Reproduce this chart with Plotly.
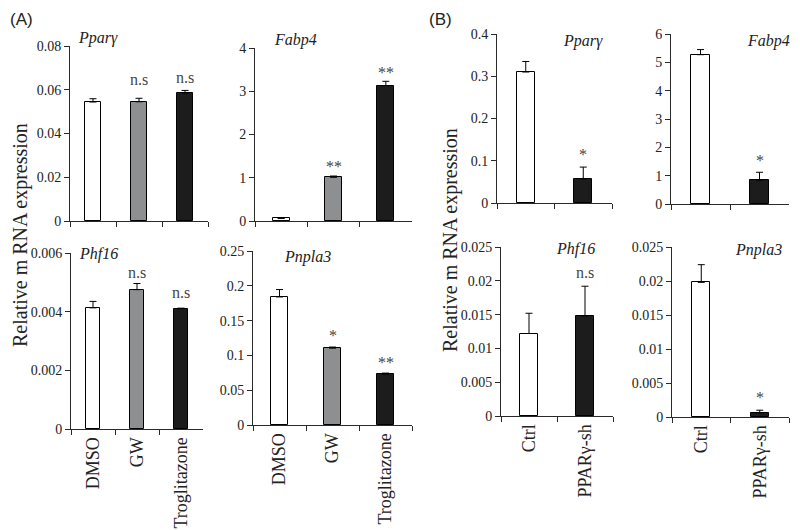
import plotly.graph_objects as go

W, H = 800, 530
OFF = 8  # page body margin offset in the browser; layout positions are compensated

# ---------------- data ----------------
cats_a = ["DMSO", "GW", "Troglitazone"]
cats_b = ["Ctrl", "PPARγ-sh"]

colors_a = ["#ffffff", "#8e8f91", "#1c1c1c"]
colors_b = ["#ffffff", "#1c1c1c"]

# Panel A
a_ppar_vals = [0.0544, 0.0545, 0.0585]
a_ppar_err = [0.0015, 0.0016, 0.0012]
a_fabp4_vals = [0.06, 1.01, 3.13]
a_fabp4_err = [0.01, 0.03, 0.10]
a_phf16_vals = [0.00413, 0.00475, 0.00410]
a_phf16_err = [0.00022, 0.00021, 0.00002]
a_pnpla3_vals = [0.184, 0.1104, 0.0731]
a_pnpla3_err = [0.0106, 0.0016, 0.0015]

# Panel B
b_ppar_vals = [0.31, 0.057]
b_ppar_err = [0.025, 0.028]
b_fabp4_vals = [5.27, 0.84]
b_fabp4_err = [0.18, 0.28]
b_phf16_vals = [0.0122, 0.0148]
b_phf16_err = [0.0030, 0.0044]
b_pnpla3_vals = [0.0198, 0.0006]
b_pnpla3_err = [0.0026, 0.0004]

# tick labels
ticks_a_ppar = [0, 0.02, 0.04, 0.06, 0.08]
ticks_a_fabp4 = [0, 1, 2, 3, 4]
ticks_a_phf16 = [0, 0.002, 0.004, 0.006]
ticks_a_pnpla3 = [0, 0.05, 0.1, 0.15, 0.2, 0.25]
ticks_b_ppar = [0, 0.1, 0.2, 0.3, 0.4]
ticks_b_fabp4 = [0, 1, 2, 3, 4, 5, 6]
ticks_b_small = [0, 0.005, 0.01, 0.015, 0.02, 0.025]

# significance labels: (category, text, y position)
sig_a_ppar = [("GW", "n.s", 0.0645), ("Troglitazone", "n.s", 0.0658)]
sig_a_fabp4 = [("GW", "**", 1.25), ("Troglitazone", "**", 3.44)]
sig_a_phf16 = [("GW", "n.s", 0.00532), ("Troglitazone", "n.s", 0.00467)]
sig_a_pnpla3 = [("GW", "*", 0.128), ("Troglitazone", "**", 0.0905)]
sig_b_ppar = [("PPARγ-sh", "*", 0.114)]
sig_b_fabp4 = [("PPARγ-sh", "*", 1.55)]
sig_b_phf16 = [("PPARγ-sh", "n.s", 0.0213)]
sig_b_pnpla3 = [("PPARγ-sh", "*", 0.0028)]

SERIF = "Liberation Serif"
SANS = "Liberation Sans"
AX = "#2a2a2a"


def px_x(p):
    return (p - OFF) / W


def px_y(p):
    return 1 - (p - OFF) / H


# panel layout: (cats, colors, vals, err, ticks, sig, gene, gene pos px, gene anchor, x px, y px, show labels, barwidth)
panels = [
    (cats_a, colors_a, a_ppar_vals, a_ppar_err, ticks_a_ppar, sig_a_ppar, "Pparγ", (98, 38), "center", (70, 208), (46, 221), False, 0.34),
    (cats_a, colors_a, a_fabp4_vals, a_fabp4_err, ticks_a_fabp4, sig_a_fabp4, "Fabp4", (295, 40), "center", (255, 412), (48, 221), False, 0.32),
    (cats_a, colors_a, a_phf16_vals, a_phf16_err, ticks_a_phf16, sig_a_phf16, "Phf16", (98, 254), "center", (71, 203), (253, 429), True, 0.34),
    (cats_a, colors_a, a_pnpla3_vals, a_pnpla3_err, ticks_a_pnpla3, sig_a_pnpla3, "Pnpla3", (307, 257), "center", (253, 412), (251, 425), True, 0.32),
    (cats_b, colors_b, b_ppar_vals, b_ppar_err, ticks_b_ppar, sig_b_ppar, "Pparγ", (583, 41), "center", (497, 612), (34, 203), False, 0.31),
    (cats_b, colors_b, b_fabp4_vals, b_fabp4_err, ticks_b_fabp4, sig_b_fabp4, "Fabp4", (792, 41), "right", (671, 789), (34, 204), False, 0.31),
    (cats_b, colors_b, b_phf16_vals, b_phf16_err, ticks_b_small, sig_b_phf16, "Phf16", (575, 249), "center", (501, 613), (247, 416), True, 0.31),
    (cats_b, colors_b, b_pnpla3_vals, b_pnpla3_err, ticks_b_small, sig_b_pnpla3, "Pnpla3", (758, 250), "center", (672, 789), (247, 417), True, 0.31),
]


def fmt(v):
    s = ("%.3f" % v).rstrip("0").rstrip(".")
    return s if s else "0"


fig = go.Figure()
layout = dict(
    template="none",
    width=W, height=H, autosize=False,
    margin=dict(l=0, r=0, t=0, b=0, pad=0),
    paper_bgcolor="white", plot_bgcolor="white",
    font=dict(family=SERIF, color="#222"),
    showlegend=False,
    bargap=0,
)
annotations = []

for i, (cats, cols, vals, err, ticks, sig, gene, gpos, ganc, xpx, ypx, showlab, bw) in enumerate(panels):
    n = i + 1
    xa = "x" if n == 1 else f"x{n}"
    ya = "y" if n == 1 else f"y{n}"
    fig.add_trace(go.Bar(
        x=cats, y=vals, xaxis=xa, yaxis=ya, width=bw,
        marker=dict(color=cols, line=dict(color="black", width=1)),
        error_y=dict(type="data", symmetric=False, array=err, arrayminus=[0] * len(err),
                     color="black", thickness=1, width=3.5),
    ))
    layout["xaxis" if n == 1 else f"xaxis{n}"] = dict(
        domain=[px_x(xpx[0]), px_x(xpx[1])], anchor=ya, automargin=False,
        type="category", range=[-0.5, len(cats) - 0.5],
        showline=True, linecolor=AX, linewidth=1,
        ticks="outside", tickson="boundaries", ticklen=5, tickcolor=AX, tickwidth=1,
        showgrid=False, zeroline=False,
        showticklabels=showlab, tickangle=-90,
        tickfont=dict(family=SERIF, size=18, color="#222"),
    )
    layout["yaxis" if n == 1 else f"yaxis{n}"] = dict(
        domain=[px_y(ypx[1]), px_y(ypx[0])], anchor=xa, automargin=False,
        range=[0, ticks[-1]],
        tickvals=ticks, ticktext=[fmt(t) for t in ticks],
        showline=True, linecolor=AX, linewidth=1,
        ticks="outside", ticklen=5, tickcolor=AX, tickwidth=1,
        showgrid=False, zeroline=False,
        tickfont=dict(family=SERIF, size=14, color="#222"),
    )
    annotations.append(dict(
        xref="paper", yref="paper", x=px_x(gpos[0]), y=px_y(gpos[1]),
        text=f"<i>{gene}</i>", showarrow=False, xanchor=ganc, yanchor="middle",
        font=dict(family=SERIF, size=16, color="#222"),
    ))
    for (c, t, yv) in sig:
        annotations.append(dict(
            xref=xa, yref=ya, x=c, y=yv, text=t, showarrow=False,
            xanchor="center", yanchor="middle",
            font=dict(family=SERIF, size=16, color="#444"),
        ))

annotations += [
    dict(xref="paper", yref="paper", x=px_x(20), y=px_y(235), text="Relative m RNA expression",
         textangle=-90, showarrow=False, xanchor="center", yanchor="middle",
         font=dict(family=SERIF, size=20, color="#222")),
    dict(xref="paper", yref="paper", x=px_x(450), y=px_y(240), text="Relative m RNA expression",
         textangle=-90, showarrow=False, xanchor="center", yanchor="middle",
         font=dict(family=SERIF, size=20, color="#222")),
    dict(xref="paper", yref="paper", x=0, y=1, text="(A)",
         showarrow=False, xanchor="left", yanchor="top",
         font=dict(family=SANS, size=17, color="#222")),
    dict(xref="paper", yref="paper", x=px_x(427), y=1, text="(B)",
         showarrow=False, xanchor="left", yanchor="top",
         font=dict(family=SANS, size=17, color="#222")),
]
layout["annotations"] = annotations
fig.update_layout(**layout)
fig.write_html("out.html")
